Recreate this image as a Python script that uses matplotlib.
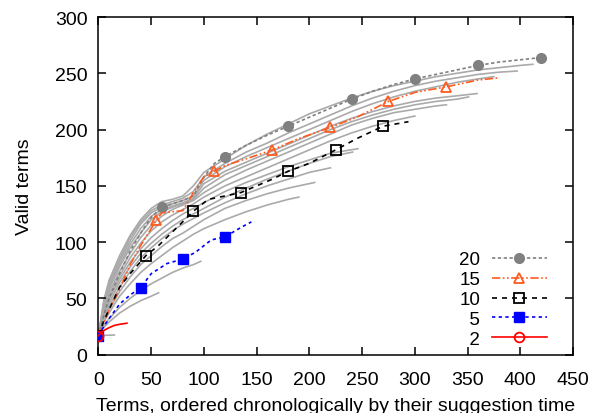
import matplotlib
matplotlib.use("Agg")
import matplotlib.pyplot as plt
from matplotlib.lines import Line2D

plt.rcParams['font.family'] = ['Liberation Sans', 'DejaVu Sans']

# ---------------- data ----------------
# highlighted runs
s20_x = [0, 5, 10, 20, 30, 40, 50, 60, 70, 80, 90, 100, 110, 120, 140, 160, 180, 200, 220, 240, 260, 280, 300, 320, 340, 360, 380, 400, 420]
s20_y = [17, 35, 50, 72, 92, 108, 122, 131, 134, 137, 141, 158, 170, 176, 186, 195, 203, 211, 219, 227, 234, 240, 245, 249, 253, 257, 260, 262, 264]

s15_x = [0, 5, 10, 20, 30, 40, 50, 55, 60, 70, 80, 90, 100, 110, 120, 140, 165, 190, 220, 245, 275, 300, 330, 360, 380]
s15_y = [17, 28, 40, 58, 80, 97, 112, 120, 126, 127, 128, 144, 158, 163, 168, 174, 182, 192, 202, 211, 225, 233, 238, 244, 246]

s10_x = [0, 5, 10, 20, 30, 45, 57, 70, 82, 90, 104, 120, 135, 150, 165, 180, 200, 225, 245, 270, 294]
s10_y = [17, 30, 40, 60, 72, 88, 97, 109, 120, 127.5, 138, 141, 144, 150, 156, 163, 170, 182, 192, 203, 207]

s5_x = [0, 5, 10, 20, 30, 40, 50, 65, 80, 92, 107, 120, 135, 145]
s5_y = [17, 25, 32, 45, 53, 59.6, 72, 81, 85, 91, 102, 104.7, 113, 118]

s2_x = [0, 3, 6, 10, 15, 20, 27]
s2_y = [17, 20, 22, 24, 26, 27, 28]

# marker spacing of each highlighted run (in terms)
mark_step = {'20': 60, '15': 55, '10': 45, '5': 40, '2': 30}

# other runs (grey)
g1_x = [0, 15]
g1_y = [17, 17.5]
g3_x = [0, 5, 10, 20, 30, 40, 50, 57]
g3_y = [17, 24, 29, 37, 43, 48, 52, 55]
g4_x = [0, 5, 10, 20, 30, 40, 50, 60, 70, 80, 90, 97]
g4_y = [17, 26, 32, 42, 50, 57, 63, 68, 73, 77, 80, 83]
g6_x = [0, 5, 10, 20, 30, 40, 50, 60, 70, 80, 90, 100, 120, 140, 160, 180, 190]
g6_y = [17, 29, 37, 52, 63, 73, 81, 88, 95, 101, 107, 112, 120, 127, 133, 138, 140]
g7_x = [0, 5, 10, 20, 30, 40, 50, 60, 70, 80, 90, 100, 120, 140, 160, 180, 205]
g7_y = [17, 31, 40, 56, 69, 80, 88, 96, 103, 108, 114, 120, 130, 137, 143, 148, 153]
g8_x = [0, 5, 10, 20, 30, 40, 50, 60, 70, 80, 90, 100, 120, 140, 160, 180, 200, 220]
g8_y = [17, 32, 43, 60, 74, 86, 95, 103, 110, 116, 121, 126, 135, 143, 150, 156, 162, 166]
g9_x = [0, 5, 10, 20, 30, 40, 50, 60, 70, 80, 90, 100, 120, 140, 160, 180, 200, 220, 241]
g9_y = [17, 34, 46, 64, 78, 90, 99, 107, 114, 120, 125, 130, 140, 148, 156, 163, 170, 176, 180]
g11_x = [0, 5, 10, 20, 30, 40, 50, 60, 70, 80, 90, 100, 120, 140, 160, 180, 200, 220, 246]
g11_y = [17, 36, 49, 67, 82, 94, 104, 112, 119, 125, 130, 135, 145, 153, 160, 167, 173, 179, 183]
g12_x = [0, 5, 10, 20, 30, 40, 50, 60, 70, 80, 90, 100, 120, 140, 160, 180, 200, 220, 240, 260, 280, 300]
g12_y = [17, 38, 52, 70, 86, 99, 110, 118, 124, 129, 134, 140, 150, 158, 166, 174, 182, 190, 197, 203, 208, 212]
g13_x = [0, 5, 10, 20, 30, 40, 50, 60, 70, 80, 90, 100, 120, 140, 160, 180, 200, 220, 240, 260, 280, 300, 320, 330]
g13_y = [17, 40, 55, 74, 90, 104, 115, 123, 129, 133, 137, 144, 155, 164, 172, 180, 188, 196, 204, 210, 215, 218, 221, 222]
g14_x = [0, 5, 10, 20, 30, 40, 50, 60, 70, 80, 90, 100, 120, 140, 160, 180, 200, 220, 240, 260, 280, 300, 320, 340, 351]
g14_y = [17, 42, 58, 78, 95, 108, 120, 127, 131, 134, 138, 148, 160, 168, 176, 184, 192, 200, 207, 213, 218, 222, 225, 227, 229]
g16_x = [0, 5, 10, 20, 30, 40, 50, 60, 70, 80, 90, 100, 120, 140, 160, 180, 200, 220, 240, 260, 280, 300, 320, 340, 359]
g16_y = [17, 44, 60, 80, 98, 112, 123, 129, 132, 135, 139, 152, 163, 171, 179, 187, 195, 203, 210, 216, 221, 225, 228, 230, 232]
g17_x = [0, 5, 10, 20, 30, 40, 50, 60, 70, 80, 90, 100, 120, 140, 160, 180, 200, 220, 240, 260, 280, 300, 320, 340, 360, 375]
g17_y = [17, 45, 62, 83, 101, 116, 126, 131, 134, 137, 141, 155, 167, 176, 184, 192, 200, 208, 216, 223, 229, 234, 238, 242, 245, 247]
g18_x = [0, 5, 10, 20, 30, 40, 50, 60, 70, 80, 90, 100, 120, 140, 160, 180, 200, 220, 240, 260, 280, 300, 320, 340, 360, 380, 397]
g18_y = [17, 47, 64, 85, 104, 118, 128, 133, 136, 139, 145, 158, 170, 180, 188, 197, 205, 213, 221, 228, 234, 239, 243, 246, 249, 251, 252]
g19_x = [0, 5, 10, 20, 30, 40, 50, 60, 70, 80, 90, 100, 120, 140, 160, 180, 200, 220, 240, 260, 280, 300, 320, 340, 360, 380, 400, 412]
g19_y = [17, 48, 66, 88, 106, 120, 130, 136, 138, 141, 150, 162, 174, 186, 196, 205, 214, 221, 228, 234, 239, 243, 247, 250, 253, 255, 257, 258]

grey_runs = [(g1_x, g1_y), (g3_x, g3_y), (g4_x, g4_y), (g6_x, g6_y), (g7_x, g7_y),
             (g8_x, g8_y), (g9_x, g9_y), (g11_x, g11_y), (g12_x, g12_y), (g13_x, g13_y),
             (g14_x, g14_y), (g16_x, g16_y), (g17_x, g17_y), (g18_x, g18_y), (g19_x, g19_y)]

x_ticks = [0, 50, 100, 150, 200, 250, 300, 350, 400, 450]
y_ticks = [0, 50, 100, 150, 200, 250, 300]

# ---------------- plot ----------------
fig = plt.figure(figsize=(5.94, 4.14), dpi=100)
ax = fig.add_axes([0.1658, 0.1408, 0.7988, 0.8157])

for gx, gy in grey_runs:
    ax.plot(gx, gy, color='#aaaaaa', lw=1.2, zorder=1)

styles = [
    ('20', s20_x, s20_y, dict(color='#808080', ls=(0, (2, 1.5)), marker='o', ms=7,
                             mfc='#808080', mec='#808080')),
    ('15', s15_x, s15_y, dict(color='#ff5a1f', ls=(0, (5, 1.5, 1, 1.5, 1, 1.5)), marker='^', ms=7.5,
                             mfc='none', mec='#ff5a1f', mew=1.3)),
    ('10', s10_x, s10_y, dict(color='black', ls=(0, (3, 3)), marker='s', ms=7.5,
                             mfc='none', mec='black', mew=1.3)),
    ('5', s5_x, s5_y, dict(color='#0000ff', ls=(0, (2, 2)), marker='s', ms=7.5,
                          mfc='#0000ff', mec='#0000ff')),
    ('2', s2_x, s2_y, dict(color='#ff0000', ls='-', marker='o', ms=7,
                          mfc='none', mec='#ff0000', mew=1.3)),
]

handles = []
labels = []
for i, (lab, xs, ys, st) in enumerate(styles):
    step = mark_step[lab]
    me = [k for k, v in enumerate(xs) if v % step == 0]
    ax.plot(xs, ys, lw=1.2, markevery=me, zorder=3 + i, **st)
    handles.append(Line2D([], [], lw=1.2, **st))
    labels.append(lab if len(lab) == 2 else '\u2007' + lab)

ax.set_xlim(0, 450)
ax.set_ylim(0, 300)
ax.set_xticks(x_ticks)
ax.set_yticks(y_ticks)
ax.tick_params(direction='in', length=6, width=1.1, top=True, right=True, labelsize=14)
ax.tick_params(axis='y', pad=8)
ax.tick_params(axis='x', pad=12)
for sp in ax.spines.values():
    sp.set_linewidth(1.1)

ax.set_xlabel('Terms, ordered chronologically by their suggestion time', fontsize=14, labelpad=6)
ax.set_ylabel('Valid terms', fontsize=14, labelpad=16)

leg = ax.legend(handles, labels, loc='lower right', bbox_to_anchor=(0.945, 0.02),
                frameon=False, markerfirst=False, fontsize=13.5, labelspacing=0.15,
                handlelength=2.95, handletextpad=0.6, borderpad=0, borderaxespad=0,
                numpoints=1)

fig.savefig('out.png', dpi=100)
